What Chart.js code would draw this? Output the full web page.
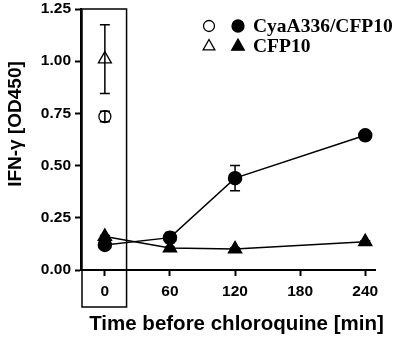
<!DOCTYPE html>
<html><head><meta charset="utf-8">
<script src="https://cdn.jsdelivr.net/npm/chart.js@4/dist/chart.umd.min.js"></script>
<style>html,body{margin:0;padding:0;background:#fff}#wrap{width:400px;height:337px}</style>
</head><body><div id="wrap"><canvas id="c" width="400" height="337"></canvas></div>
<script>
const times = [0, 60, 120, 240];
const cyaFilled = [0.12, 0.155, 0.44, 0.645];
const cyaFilledErr = [0.01, 0.025, 0.06, 0.01];
const cfpFilled = [0.16, 0.105, 0.10, 0.135];
const cfpFilledErr = [0.005, 0.005, 0.005, 0.005];
const cyaOpen = [0.735];
const cyaOpenErr = [0.025];
const cfpOpen = [1.01];
const cfpOpenErr = [0.165];
const openTimes = [0];
const xTicks = [0, 60, 120, 180, 240];
const yTicks = [0, 0.25, 0.5, 0.75, 1.0, 1.25];
const legendLabels = ["CyaA336/CFP10", "CFP10"];
const xTitle = 'Time before chloroquine [min]';
const yTitle = 'IFN-γ [OD450]';

const toPts = (xs, ys) => xs.map((x, i) => ({x, y: ys[i]}));
const SANS = '"Liberation Sans", Arial, sans-serif';

const errorPlugin = {
  id: 'errbars',
  afterDatasetsDraw(chart) {
    const {ctx, scales: {x, y}} = chart;
    const sets = [[times, cyaFilled, cyaFilledErr], [times, cfpFilled, cfpFilledErr],
                  [openTimes, cyaOpen, cyaOpenErr], [openTimes, cfpOpen, cfpOpenErr]];
    ctx.save();
    ctx.strokeStyle = '#000'; ctx.lineWidth = 1.5;
    sets.forEach(([xs, ys, es]) => {
      xs.forEach((t, i) => {
        const px = x.getPixelForValue(t);
        const top = y.getPixelForValue(ys[i] + es[i]);
        const bot = y.getPixelForValue(ys[i] - es[i]);
        ctx.beginPath();
        ctx.moveTo(px, top); ctx.lineTo(px, bot);
        ctx.moveTo(px - 5, top); ctx.lineTo(px + 5, top);
        ctx.moveTo(px - 5, bot); ctx.lineTo(px + 5, bot);
        ctx.stroke();
      });
    });
    // box around t=0
    const a = chart.chartArea;
    const right = x.getPixelForValue(20);
    ctx.lineWidth = 1.5;
    ctx.strokeRect(a.left + 1, a.top, right - a.left - 1, 307 - a.top);
    // legend
    const rows = [['circle', 26], ['triangle', 46]];
    rows.forEach(([style, ry], i) => {
      [[209, false], [238, true]].forEach(([lx, filled]) => {
        ctx.beginPath();
        if (style === 'circle') {
          ctx.arc(lx, ry, filled ? 6 : 5.5, 0, Math.PI * 2);
        } else {
          const r = filled ? 7 : 6.5;
          ctx.moveTo(lx, ry - r); ctx.lineTo(lx + r * 0.9, ry + r * 0.6); ctx.lineTo(lx - r * 0.9, ry + r * 0.6); ctx.closePath();
        }
        ctx.fillStyle = filled ? '#000' : '#fff';
        ctx.fill(); ctx.lineWidth = 1.3; ctx.stroke();
      });
      ctx.fillStyle = '#000';
      ctx.font = 'bold 19.5px "Liberation Serif", "Times New Roman", serif';
      ctx.textBaseline = 'middle'; ctx.textAlign = 'left';
      ctx.fillText(legendLabels[i], 253, ry + 1);
    });
    // axis titles
    ctx.fillStyle = '#000';
    ctx.textAlign = 'center'; ctx.textBaseline = 'middle';
    ctx.font = 'bold 20.5px ' + SANS;
    ctx.fillText(xTitle, 236.5, 324);
    ctx.save();
    ctx.translate(16, 124);
    ctx.rotate(-Math.PI / 2);
    ctx.font = 'bold 19px ' + SANS;
    ctx.fillText(yTitle, 0, 0);
    ctx.restore();
    ctx.restore();
  }
};

const tickFont = {family: SANS, size: 15.5, weight: 'bold'};
new Chart(document.getElementById('c'), {
  type: 'scatter',
  data: {
    datasets: [
      {data: toPts(times, cyaFilled), showLine: true, borderColor: '#000', borderWidth: 1.5,
       pointStyle: 'circle', pointRadius: 6.5, pointBackgroundColor: '#000', pointBorderColor: '#000'},
      {data: toPts(times, cfpFilled), showLine: true, borderColor: '#000', borderWidth: 1.5,
       pointStyle: 'triangle', pointRadius: 7.5, pointBackgroundColor: '#000', pointBorderColor: '#000'},
      {data: toPts(openTimes, cyaOpen), showLine: false, pointStyle: 'circle', pointRadius: 6,
       pointBackgroundColor: '#fff', pointBorderColor: '#000', pointBorderWidth: 1.3},
      {data: toPts(openTimes, cfpOpen), showLine: false, pointStyle: 'triangle', pointRadius: 7.5,
       pointBackgroundColor: '#fff', pointBorderColor: '#000', pointBorderWidth: 1.3}
    ]
  },
  options: {
    responsive: false, animation: false,
    layout: {padding: {top: 8, right: 25, left: 0, bottom: 0}},
    plugins: {legend: {display: false}, tooltip: {enabled: false}},
    scales: {
      x: {
        type: 'linear', min: -22, max: 249,
        afterBuildTicks: s => { s.ticks = xTicks.map(v => ({value: v})); },
        afterFit: s => { s.height = 67; s.paddingLeft = 0; s.paddingRight = 0; },
        grid: {drawOnChartArea: false, drawTicks: true, tickLength: 6, tickColor: '#000', tickWidth: 2},
        border: {color: '#000', width: 2},
        ticks: {color: '#000', font: tickFont, padding: 6, maxRotation: 0},
        title: {display: false}
      },
      y: {
        min: 0, max: 1.25,
        afterBuildTicks: s => { s.ticks = yTicks.map(v => ({value: v})); },
        afterFit: s => { s.width = 81; s.paddingTop = 0; s.paddingBottom = 0; },
        grid: {drawOnChartArea: false, drawTicks: true, tickLength: 6, tickColor: '#000', tickWidth: 2},
        border: {color: '#000', width: 2},
        ticks: {color: '#000', font: tickFont, padding: 4, callback: v => v.toFixed(2)},
        title: {display: false}
      }
    }
  },
  plugins: [errorPlugin]
});
</script></body></html>
